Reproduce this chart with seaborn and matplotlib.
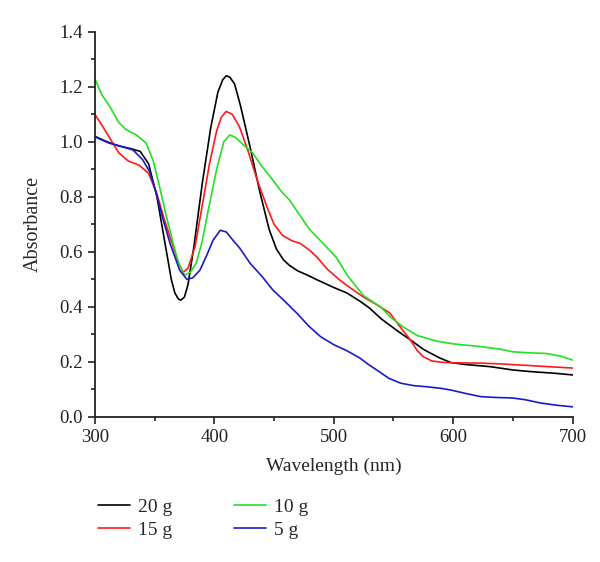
import numpy as np
import pandas as pd
import matplotlib
matplotlib.use("Agg")
import matplotlib.pyplot as plt
import seaborn as sns
from matplotlib.ticker import MultipleLocator

# wavelength (nm) / absorbance
wl_20 = [300, 310, 320, 330, 338, 345, 352, 358, 364, 367, 370, 372, 375, 378, 383, 390, 397, 403,
         407, 410, 413, 417, 422, 430, 438, 446, 452, 458, 463, 470, 478, 485, 500, 511, 522, 530,
         540, 554, 564, 575, 588, 598, 610, 631, 650, 665, 685, 700]
abs_20 = [1.02, 1.00, 0.985, 0.975, 0.965, 0.92, 0.80, 0.65, 0.50, 0.45, 0.428, 0.424, 0.435, 0.48,
          0.62, 0.85, 1.05, 1.18, 1.225, 1.24, 1.235, 1.21, 1.13, 0.98, 0.82, 0.68, 0.61, 0.57, 0.55,
          0.53, 0.515, 0.50, 0.47, 0.45, 0.42, 0.395, 0.355, 0.31, 0.28, 0.245, 0.215, 0.197, 0.19,
          0.182, 0.17, 0.164, 0.158, 0.152]

wl_15 = [300, 306, 313, 320, 328, 337, 345, 352, 358, 364, 370, 374, 378, 384, 390, 396, 402, 406,
         410, 415, 421, 428, 436, 444, 450, 457, 465, 472, 480, 486, 495, 505, 515, 525, 535, 547,
         555, 564, 570, 575, 582, 590, 600, 623, 640, 656, 680, 700]
abs_15 = [1.10, 1.06, 1.01, 0.96, 0.93, 0.915, 0.885, 0.81, 0.72, 0.64, 0.56, 0.525, 0.54, 0.62, 0.77,
          0.92, 1.04, 1.09, 1.11, 1.10, 1.055, 0.97, 0.86, 0.764, 0.70, 0.66, 0.64, 0.63, 0.605, 0.58,
          0.535, 0.497, 0.465, 0.435, 0.41, 0.377, 0.33, 0.28, 0.24, 0.218, 0.203, 0.198, 0.196,
          0.195, 0.192, 0.188, 0.182, 0.177]

wl_10 = [300, 306, 313, 320, 326, 335, 343, 349, 354, 360, 365, 370, 375, 380, 385, 390, 395, 402,
         408, 413, 418, 424, 432, 440, 449, 456, 463, 472, 480, 490, 502, 512, 525, 539, 548, 558,
         570, 586, 600, 623, 640, 650, 665, 678, 690, 700]
abs_10 = [1.23, 1.17, 1.125, 1.07, 1.045, 1.024, 0.995, 0.93, 0.84, 0.727, 0.64, 0.56, 0.515, 0.525,
          0.56, 0.64, 0.752, 0.90, 1.0, 1.025, 1.015, 0.99, 0.96, 0.91, 0.861, 0.82, 0.788, 0.73, 0.68,
          0.635, 0.58, 0.51, 0.44, 0.40, 0.36, 0.327, 0.295, 0.275, 0.265, 0.255, 0.245, 0.236,
          0.232, 0.23, 0.22, 0.206]

wl_5 = [300, 312, 323, 332, 340, 346, 351, 357, 363, 371, 377, 382, 388, 394, 399, 405, 410, 416,
        421, 430, 440, 449, 459, 469, 479, 489, 500, 511, 522, 529, 536, 546, 556, 567, 578, 590,
        598, 610, 623, 636, 650, 660, 673, 686, 700]
abs_5 = [1.018, 0.995, 0.982, 0.97, 0.935, 0.89, 0.82, 0.72, 0.63, 0.533, 0.50, 0.505, 0.533, 0.59,
         0.642, 0.678, 0.672, 0.64, 0.615, 0.558, 0.51, 0.461, 0.42, 0.377, 0.33, 0.291, 0.262, 0.24,
         0.213, 0.19, 0.17, 0.14, 0.122, 0.113, 0.109, 0.103, 0.097, 0.085, 0.073, 0.07, 0.068,
         0.062, 0.05, 0.042, 0.036]

labels = ["20 g", "15 g", "10 g", "5 g"]
colors = ["#000000", "#ff1a1a", "#22e022", "#1a1acc"]

df = pd.concat([
    pd.DataFrame({"wl": wl_20, "A": abs_20, "s": labels[0]}),
    pd.DataFrame({"wl": wl_15, "A": abs_15, "s": labels[1]}),
    pd.DataFrame({"wl": wl_10, "A": abs_10, "s": labels[2]}),
    pd.DataFrame({"wl": wl_5, "A": abs_5, "s": labels[3]}),
], ignore_index=True)

sns.set_style("ticks")
plt.rcParams["font.family"] = ["Liberation Serif", "DejaVu Serif"]

fig = plt.figure(figsize=(6, 5.62), dpi=100)
ax = fig.add_axes([0.158, 0.2585, 0.7965, 0.685])

sns.lineplot(data=df, x="wl", y="A", hue="s", palette=dict(zip(labels, colors)),
             estimator=None, sort=False, linewidth=1.2, ax=ax)

ax.set_xlim(300, 700)
ax.set_ylim(0, 1.4)
ax.xaxis.set_major_locator(MultipleLocator(100))
ax.xaxis.set_minor_locator(MultipleLocator(50))
ax.yaxis.set_major_locator(MultipleLocator(0.2))
ax.yaxis.set_minor_locator(MultipleLocator(0.1))
ax.set_yticklabels([f"{v:.1f}" for v in ax.get_yticks()])
for s in ["top", "right"]:
    ax.spines[s].set_visible(False)
for s in ["left", "bottom"]:
    ax.spines[s].set_linewidth(1.3)
    ax.spines[s].set_color("#222222")
ax.tick_params(which="major", length=5, width=1.2, labelsize=13.5, colors="#222222")
ax.tick_params(which="minor", length=3, width=1.2, colors="#222222")
ax.set_xlabel("Wavelength (nm)", fontsize=14)
ax.set_ylabel("Absorbance", fontsize=14.5)
ax.xaxis.set_label_coords(0.5, -0.107)
ax.yaxis.set_label_coords(-0.108, 0.5)

ax.legend(loc="upper left", bbox_to_anchor=(0.147, 0.13), bbox_transform=fig.transFigure,
          ncol=2, frameon=False, fontsize=14, handlelength=1.65, columnspacing=3.2,
          labelspacing=0.24, handletextpad=0.4, borderpad=0)

fig.savefig("out.png", dpi=100)
